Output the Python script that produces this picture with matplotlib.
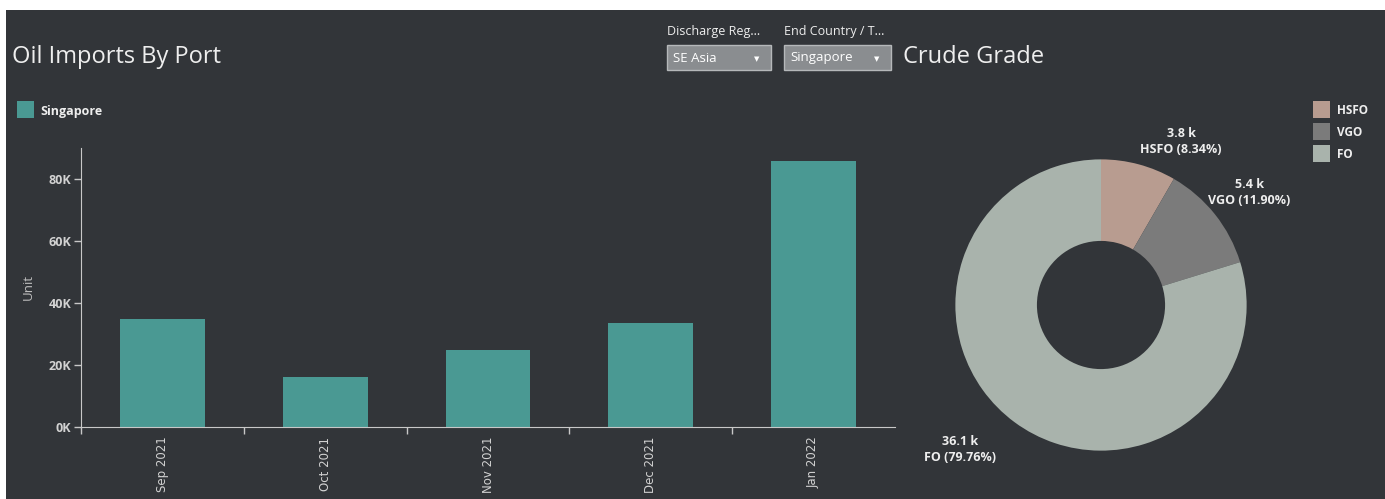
import matplotlib.pyplot as plt
from matplotlib.patches import Rectangle
import numpy as np

# bar chart data
months = ["Sep 2021", "Oct 2021", "Nov 2021", "Dec 2021", "Jan 2022"]
imports = [34800, 16100, 24800, 33500, 85800]
y_ticks = [0, 20000, 40000, 60000, 80000]
y_tick_labels = ["0K", "20K", "40K", "60K", "80K"]

# donut data
grades = ["HSFO", "VGO", "FO"]
grade_pct = [8.34, 11.90, 79.76]
grade_k = [3.8, 5.4, 36.1]

W, H = 1385, 499
BG = "#323539"
TEAL = "#4a9993"
TXT = "#eeeeee"
TICK = "#d2d2d2"
grade_colors = ["#b89c90", "#7b7b7b", "#a9b3ac"]
FONT = ["Open Sans", "DejaVu Sans"]

plt.rcParams['font.family'] = FONT


def px(x, y, w, h):
    # pixel box (top-left origin) -> figure fraction
    return [x / W, 1 - (y + h) / H, w / W, h / H]


fig = plt.figure(figsize=(W / 100, H / 100), dpi=100, facecolor="white")
fig.patches.append(Rectangle((6 / W, 0), 1, 1 - 10 / H, transform=fig.transFigure,
                             facecolor=BG, edgecolor="none", zorder=-10))

# titles
fig.text(12 / W, 1 - 57 / H, "Oil Imports By Port", color=TXT, fontsize=17,
         va="center", ha="left")
fig.text(903 / W, 1 - 57 / H, "Crude Grade", color=TXT, fontsize=17,
         va="center", ha="left")

# dropdown filters
filters = [("Discharge Reg...", "SE Asia", 667, 104), ("End Country / T...", "Singapore", 784, 107)]
for label, value, x0, w in filters:
    fig.text(x0 / W, 1 - 32 / H, label, color=TXT, fontsize=9, va="center", ha="left")
    fig.patches.append(Rectangle((x0 / W, 1 - 70 / H), w / W, 25 / H, transform=fig.transFigure,
                                 facecolor="#8a8d90", edgecolor="#b5b8ba", lw=1))
    fig.text((x0 + 6) / W, 1 - 58 / H, value, color="white", fontsize=9.5, va="center", ha="left")
    fig.text((x0 + w - 14) / W, 1 - 59 / H, "▼", color="white", fontsize=5,
             va="center", ha="center", family="DejaVu Sans")

# bar legend
fig.patches.append(Rectangle((17 / W, 1 - 118 / H), 17 / W, 17 / H, transform=fig.transFigure,
                             facecolor=TEAL, edgecolor="none"))
fig.text(40 / W, 1 - 111 / H, "Singapore", color=TXT, fontsize=9, fontweight="bold",
         va="center", ha="left")

# bar chart
ax = fig.add_axes(px(81, 148, 814, 279))
ax.set_facecolor("none")
x = np.arange(len(months))
ax.bar(x, imports, width=0.52, color=TEAL)
ax.set_xlim(-0.5, len(months) - 0.5)
ax.set_ylim(0, 90000)
ax.set_yticks(y_ticks)
ax.set_yticklabels(y_tick_labels, color=TICK, fontsize=9, fontweight="bold")
ax.set_xticks(x)
ax.set_xticklabels(months, rotation=90, color=TICK, fontsize=8.5, family="DejaVu Sans")
ax.set_xticks(np.arange(-0.5, len(months) - 1), minor=True)
ax.tick_params(axis="x", which="major", length=0, pad=7)
ax.tick_params(axis="x", which="minor", length=5, color="#c8c8c8", width=1)
ax.tick_params(axis="y", length=5, color="#c8c8c8", width=1, pad=2)
for s in ["top", "right"]:
    ax.spines[s].set_visible(False)
for s in ["left", "bottom"]:
    ax.spines[s].set_color("#c8c8c8")
fig.text(28 / W, 1 - 287 / H, "Unit", color="#c0c0c0", fontsize=9.5, rotation=90,
         va="center", ha="center")

# donut chart
pax = fig.add_axes(px(951, 155, 300, 300))
pax.set_facecolor("none")
pax.pie(grade_pct, colors=grade_colors, startangle=90, counterclock=False,
        radius=1, wedgeprops=dict(width=0.56, edgecolor="none"))
pax.set_xlim(-1.03, 1.03)
pax.set_ylim(-1.03, 1.03)
pax.set_aspect("equal")
pax.axis("off")

label_pos = [(0.55, 1.12), (1.02, 0.77), (-0.97, -0.99)]
for g, p, k, (lx, ly) in zip(grades, grade_pct, grade_k, label_pos):
    pax.text(lx, ly, f"{k} k\n{g} ({p:.2f}%)", color=TXT, fontsize=9, fontweight="bold",
             ha="center", va="center", linespacing=1.3, clip_on=False)

# donut legend
for i, (g, c) in enumerate(zip(grades, grade_colors)):
    y0 = 101 + i * 22
    fig.patches.append(Rectangle((1313 / W, 1 - (y0 + 17) / H), 17 / W, 17 / H,
                                 transform=fig.transFigure, facecolor=c, edgecolor="none"))
    fig.text(1337 / W, 1 - (y0 + 9) / H, g, color=TXT, fontsize=8.5, fontweight="bold",
             va="center", ha="left")

fig.savefig("out.png", dpi=100, facecolor=fig.get_facecolor())
